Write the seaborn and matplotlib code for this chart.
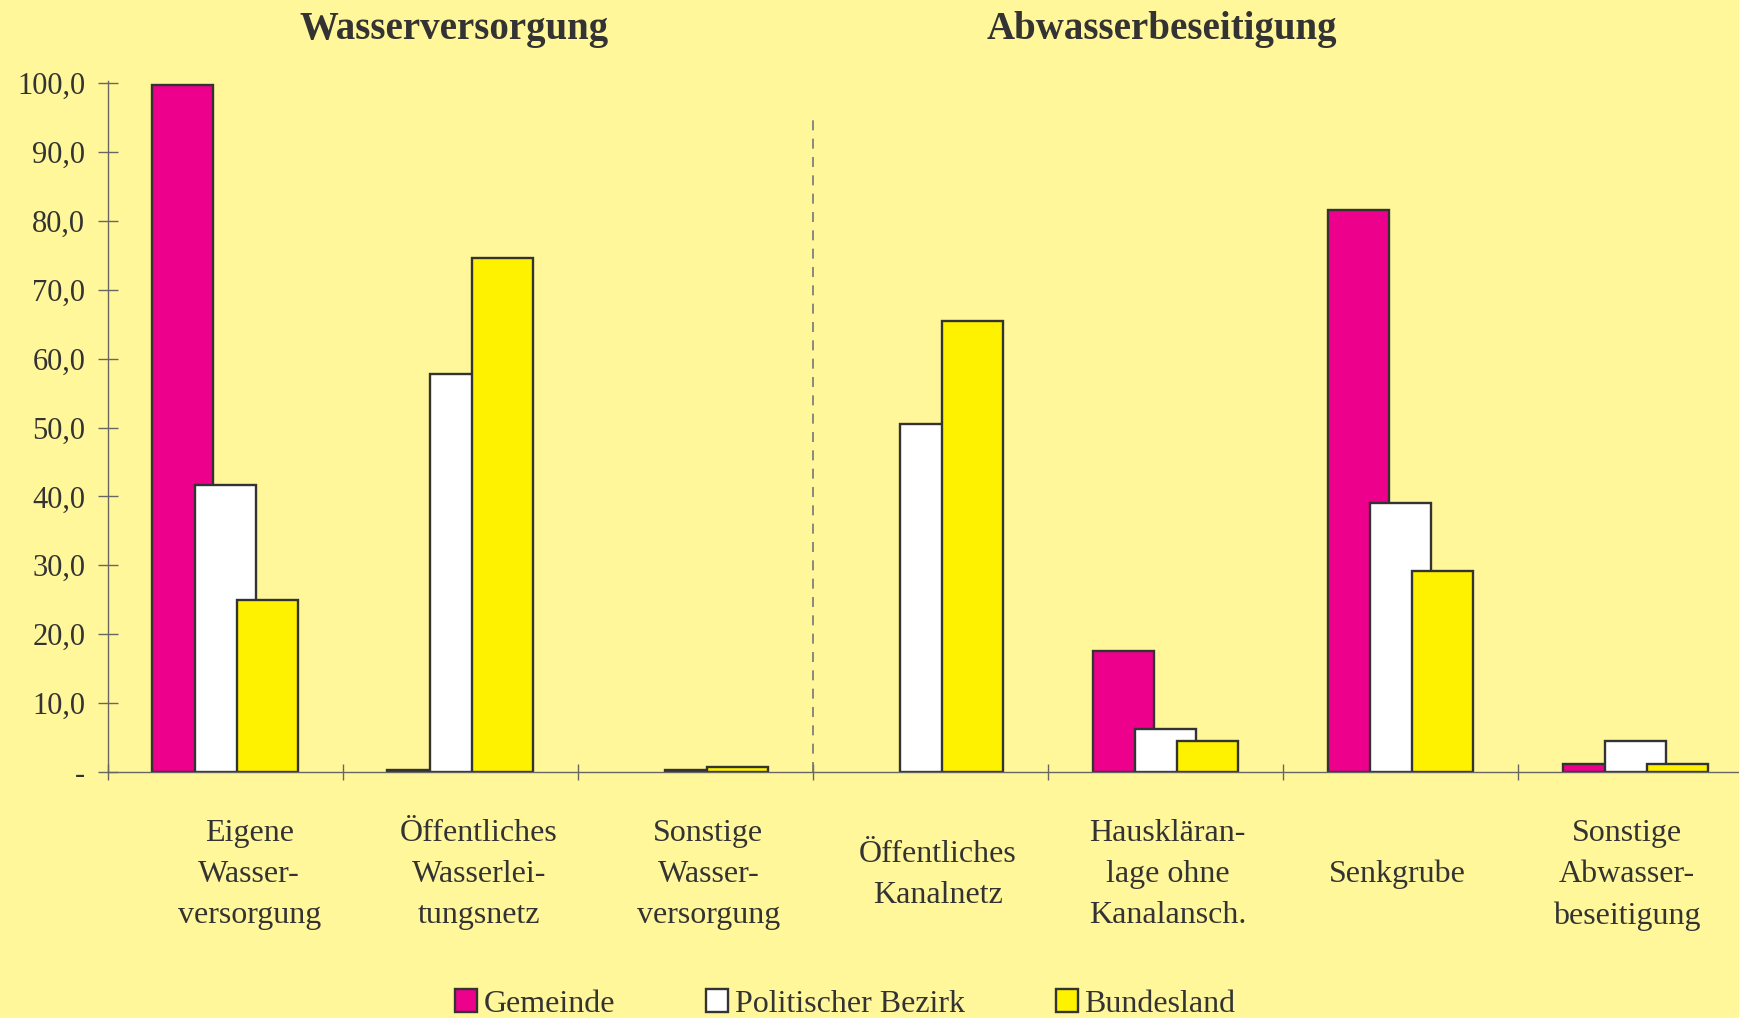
import pandas as pd
import numpy as np
import matplotlib
matplotlib.use("Agg")
import matplotlib.pyplot as plt
import matplotlib.patches as mpatches
from matplotlib.transforms import ScaledTranslation
import seaborn as sns

# data (percent)
categories = [
    "Eigene\nWasser-\nversorgung",
    "Öffentliches\nWasserlei-\ntungsnetz",
    "Sonstige\nWasser-\nversorgung",
    "Öffentliches\nKanalnetz",
    "Hauskläran-\nlage ohne\nKanalansch.",
    "Senkgrube",
    "Sonstige\nAbwasser-\nbeseitigung",
]
series = ["Gemeinde", "Politischer Bezirk", "Bundesland"]
gemeinde = [99.7, 0.3, 0.0, 0.0, 17.6, 81.6, 1.1]
bezirk = [41.6, 57.8, 0.3, 50.5, 6.3, 39.1, 4.5]
bundesland = [24.9, 74.6, 0.7, 65.5, 4.5, 29.2, 1.1]

colors = ["#EC008C", "#FFFFFF", "#FFF200"]
bg = "#FFF799"
ink = "#333333"

df = pd.DataFrame({
    "Kategorie": categories * 3,
    "Serie": [s for s in series for _ in categories],
    "Wert": gemeinde + bezirk + bundesland,
})

sns.set_style("ticks")
plt.rcParams["font.family"] = ["Liberation Serif", "DejaVu Serif"]
plt.rcParams["text.color"] = ink

fig = plt.figure(figsize=(17.39, 10.18), dpi=100, facecolor=bg)
ax = fig.add_axes([0.0619, 0.2417, 0.9381, 0.6787])
ax.set_facecolor(bg)

sns.barplot(data=df, x="Kategorie", y="Wert", hue="Serie", order=categories,
            hue_order=series, palette=colors, saturation=1, width=0.54,
            edgecolor=ink, linewidth=1.7, legend=False, ax=ax)

# bars in the original overlap one another: widen them around their centres
for p in ax.patches:
    c = p.get_x() + p.get_width() / 2
    p.set_width(0.26)
    p.set_x(c - 0.13)
    if p.get_height() == 0:
        p.set_visible(False)

ax.set_xlim(-0.5, 6.44)
ax.set_ylim(0, 100.3)
ax.set_xlabel("")
ax.set_ylabel("")

yt = np.arange(0, 101, 10)
ax.set_yticks(yt)
ax.set_yticklabels(["-" if v == 0 else f"{v:.1f}".replace(".", ",") for v in yt],
                   fontsize=22, color=ink)
ax.tick_params(axis="y", direction="inout", length=14.4, width=1, color="#666666", pad=9)

ax.set_xticks(np.arange(-0.5, 6.5, 1), minor=True)
ax.tick_params(axis="x", which="minor", direction="inout", length=11.5, width=1, color="#666666")
ax.tick_params(axis="x", which="major", length=0, pad=74)
for i, lab in enumerate(ax.get_xticklabels()):
    lab.set_fontsize(23)
    lab.set_color(ink)
    lab.set_verticalalignment("center")
    lab.set_linespacing(1.55)
    dx = (24 - 5.5 * i) / 100
    lab.set_transform(lab.get_transform() + ScaledTranslation(dx, 0, fig.dpi_scale_trans))

for side in ["top", "right"]:
    ax.spines[side].set_visible(False)
for side in ["left", "bottom"]:
    ax.spines[side].set_color("#666666")
    ax.spines[side].set_linewidth(1)

# separator between water supply and sewage
ax.plot([2.5, 2.5], [0, 95.4], color="#777777", lw=1.2, ls=(0, (6, 5)))

fig.text(454 / 1739, 1 - 29 / 1018, "Wasserversorgung", ha="center", va="center",
         fontsize=28, fontweight="bold", color=ink)
fig.text(1162 / 1739, 1 - 29 / 1018, "Abwasserbeseitigung", ha="center", va="center",
         fontsize=28, fontweight="bold", color=ink)

handles = [mpatches.Patch(facecolor=c, edgecolor=ink, linewidth=1.7, label=s)
           for c, s in zip(colors, series)]
fig.legend(handles=handles, loc="center", bbox_to_anchor=(0.486, 0.0138), ncol=3,
           frameon=False, fontsize=23, handlelength=0.7, handleheight=0.7,
           handletextpad=0.2, columnspacing=2.85, borderaxespad=0)

fig.savefig("out.png", dpi=100, facecolor=bg)
